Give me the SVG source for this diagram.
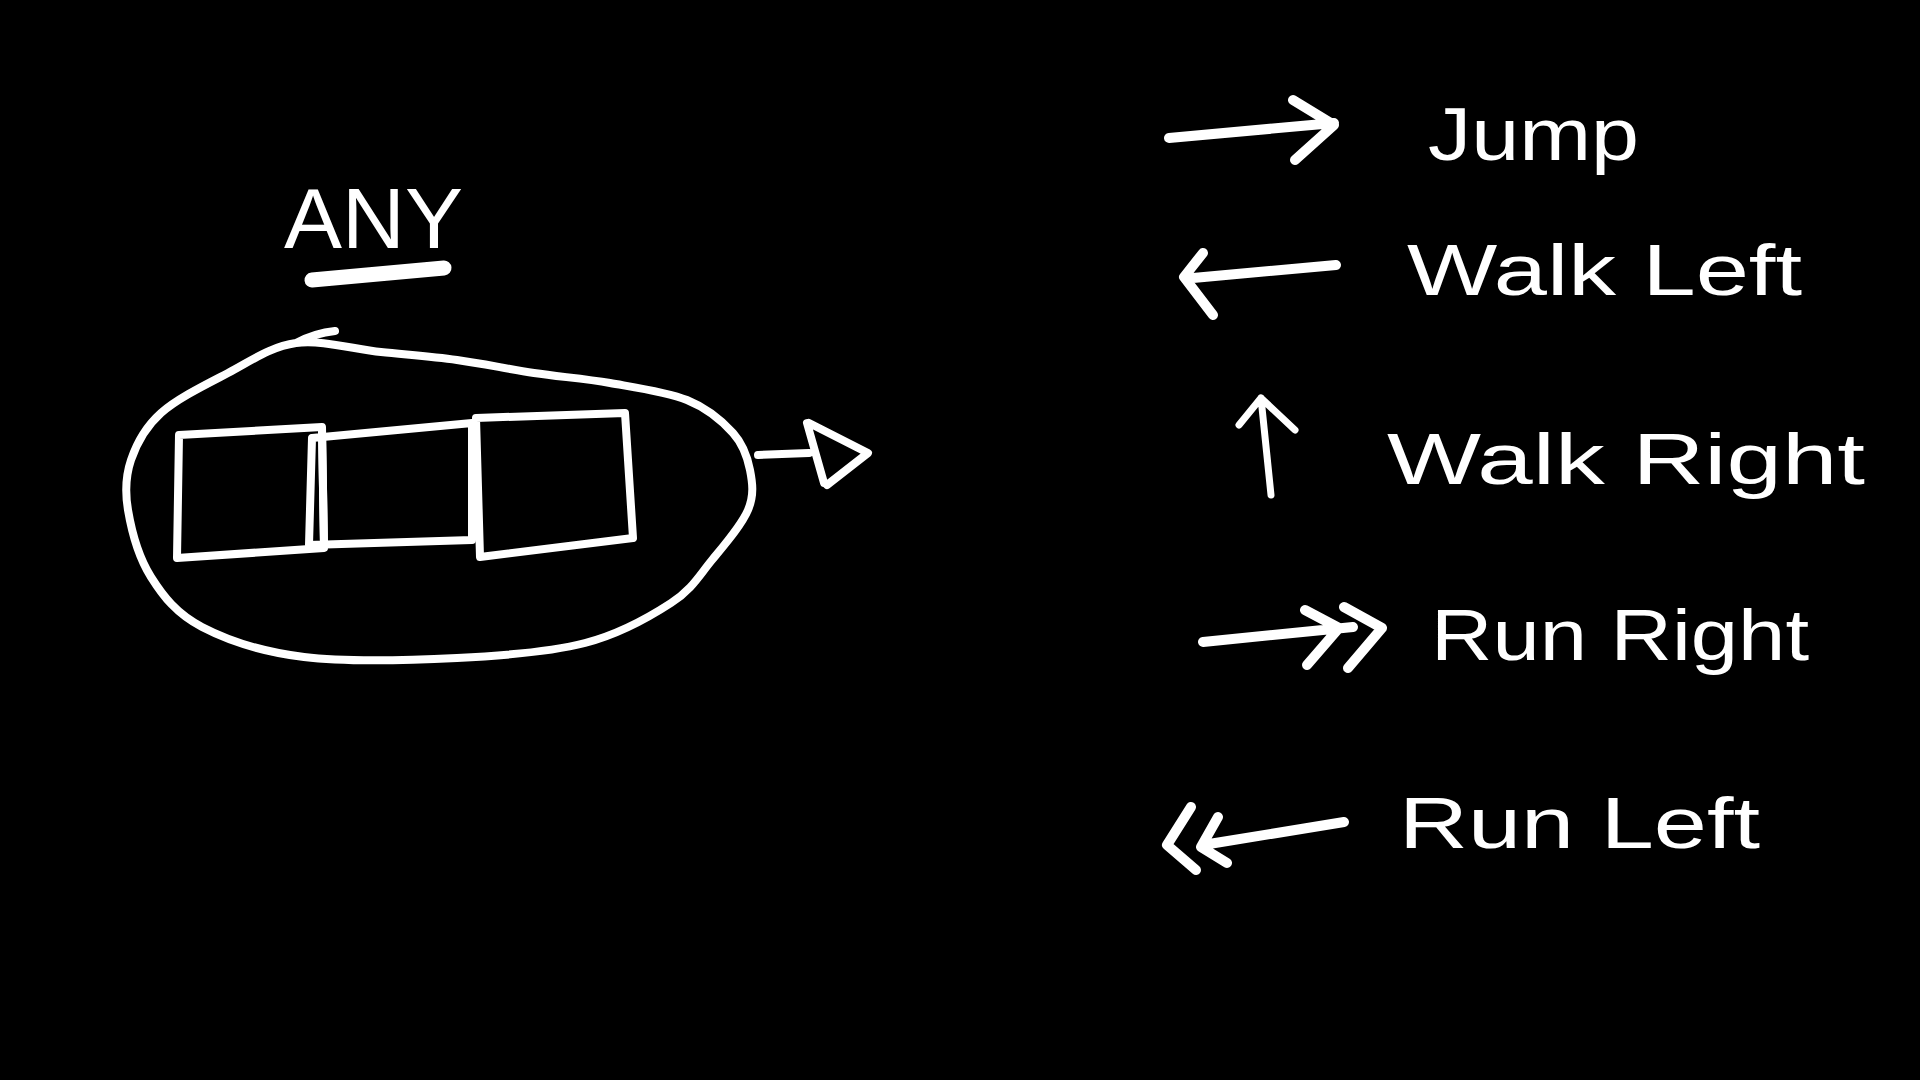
<svg xmlns="http://www.w3.org/2000/svg" width="1920" height="1080" viewBox="0 0 1920 1080">
<style>
.s{fill:none;stroke:#fff;stroke-linecap:round;stroke-linejoin:round}
.t{fill:#fff;font-family:"Liberation Sans","DejaVu Sans",sans-serif}
</style>
<rect width="1920" height="1080" fill="#000"/>
<g id="any-label">
<text class="t" x="284" y="248" font-size="86" textLength="179" lengthAdjust="spacingAndGlyphs">ANY</text>
<path class="s" d="M312,280 L444,268" stroke-width="15"/>
</g>
<g id="container">
<path class="s" stroke-width="8" d="M296,343 C270.5,346.5 250.5,361.3 228,373 C205.5,384.7 177.2,398.5 161,413 C144.8,427.5 136.5,443.8 131,460 C125.5,476.2 124.7,490.5 128,510 C131.3,529.5 138.7,557.5 151,577 C163.3,596.5 176.5,613.7 202,627 C227.5,640.3 261.5,651.8 304,657 C346.5,662.2 410.2,660.3 457,658 C503.8,655.7 549.3,652.2 585,643 C620.7,633.8 649.8,616.8 671,603 C692.2,589.2 699.2,575.5 712,560 C724.8,544.5 741.7,525 748,510 C754.3,495 752.5,482.8 750,470 C747.5,457.2 743.5,444.7 733,433 C722.5,421.3 707.5,408.3 687,400 C666.5,391.7 635.5,387.5 610,383 C584.5,378.5 559.5,376.8 534,373 C508.5,369.2 482.5,363.5 457,360 C431.5,356.5 407.8,354.8 381,352 C354.2,349.2 321.5,339.5 296,343 Q315,333 335,331"/>
</g>
<g id="box1"><path class="s" stroke-width="8" d="M179,435 L322,427 L324,548 L177,558 Z"/></g>
<g id="box2"><path class="s" stroke-width="8" d="M312,438 L472,423 L472,540 L309,545 Z M322,432 L324,545"/></g>
<g id="box3"><path class="s" stroke-width="8" d="M476,418 L625,413 L633,538 L480,557 Z"/></g>
<g id="connectors">
<path class="s" stroke-width="8" d="M758,455 L809,453 M807,423 L824,483 M809,423 L868,453 L827,485"/>
<path class="s" stroke-width="10" d="M1169,138 L1334,123 M1293,100 L1334,125 L1295,160"/>
<path class="s" stroke-width="10" d="M1336,265 L1193,278 M1203,253 L1184,277 L1213,315"/>
<path class="s" stroke-width="7" d="M1271,495 L1261,398 M1239,425 L1261,398 L1295,430"/>
<path class="s" stroke-width="10" d="M1203,642 L1353,627 M1305,610 L1339,628 L1307,665 M1344,607 L1382,628 L1348,668"/>
<path class="s" stroke-width="10" d="M1344,822 L1203,845 M1191,807 L1167,845 L1196,870 M1218,817 L1201,847 L1227,863"/>
</g>
<g id="label-jump"><text class="t" x="1428" y="160" font-size="74" textLength="211" lengthAdjust="spacingAndGlyphs">Jump</text></g>
<g id="label-walk-left"><text class="t" x="1407" y="295" font-size="72" textLength="395" lengthAdjust="spacingAndGlyphs">Walk Left</text></g>
<g id="label-walk-right"><text class="t" x="1387" y="484" font-size="72" textLength="478" lengthAdjust="spacingAndGlyphs">Walk Right</text></g>
<g id="label-run-right"><text class="t" x="1431" y="660" font-size="72" textLength="378" lengthAdjust="spacingAndGlyphs">Run Right</text></g>
<g id="label-run-left"><text class="t" x="1399" y="848" font-size="72" textLength="361" lengthAdjust="spacingAndGlyphs">Run Left</text></g>
</svg>
